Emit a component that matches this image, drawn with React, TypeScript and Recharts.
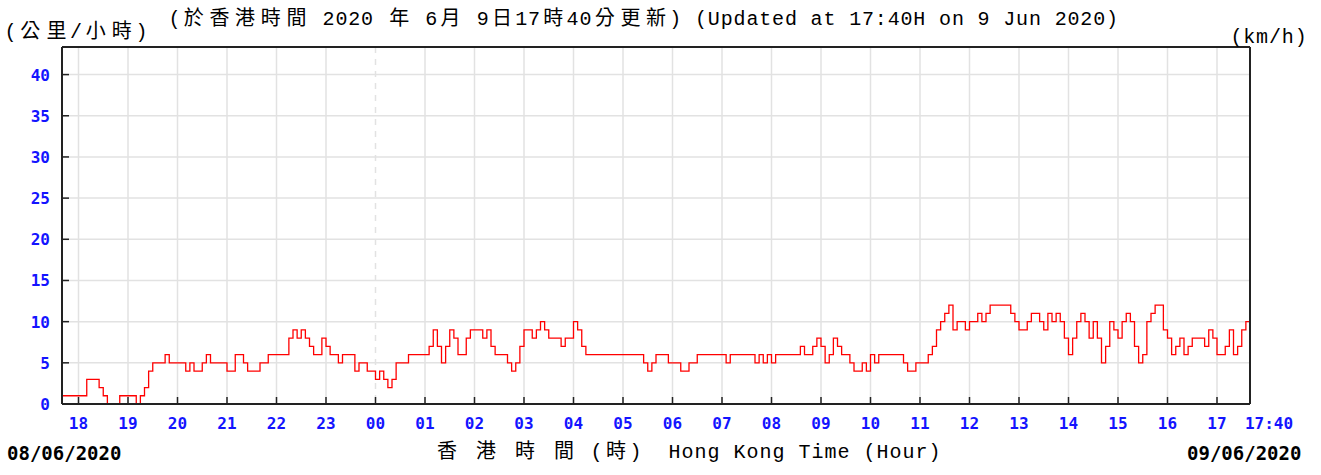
import React from "react";
import {
  LineChart,
  Line,
  XAxis,
  YAxis,
  CartesianGrid,
  ReferenceLine,
} from "recharts";

const AXIS_COLOR = "#222";
const GRID_COLOR = "#e2e2e2";
const TICK_BLUE = "#1414ff";
const LINE_RED = "#ff0000";
const TICK_FONT = "'DejaVu Sans Mono', monospace";
const TEXT_FONT = "'Liberation Mono', 'Noto Sans CJK TC', monospace";

// x axis is minutes since 17:40 on 08/06/2020, one value every 5 minutes
const STEP_MIN = 5;
const Y_MAX = 43.35;
const yTicks = [0, 5, 10, 15, 20, 25, 30, 35, 40];
const hourLabels = [
  "18", "19", "20", "21", "22", "23", "00", "01", "02", "03", "04", "05",
  "06", "07", "08", "09", "10", "11", "12", "13", "14", "15", "16", "17",
];
const endLabel = "17:40";

// wind speed, km/h
const speeds = [
  // 17:40 - 17:55
  1, 1, 1, 1,
  // 18
  1, 1, 3, 3, 3, 2, 1, 0, 0, 0, 1, 1,
  // 19
  1, 1, 0, 1, 2, 4, 5, 5, 5, 6, 5, 5,
  // 20
  5, 5, 4, 5, 4, 4, 5, 6, 5, 5, 5, 5,
  // 21
  4, 4, 6, 6, 5, 4, 4, 4, 5, 5, 6, 6,
  // 22
  6, 6, 6, 8, 9, 8, 9, 8, 7, 6, 6, 8,
  // 23
  7, 6, 6, 5, 6, 6, 6, 4, 5, 5, 4, 4,
  // 00
  3, 4, 3, 2, 3, 5, 5, 5, 6, 6, 6, 6,
  // 01
  6, 7, 9, 7, 5, 7, 9, 8, 6, 6, 8, 9,
  // 02
  9, 9, 8, 9, 7, 6, 6, 6, 5, 4, 5, 7,
  // 03
  9, 9, 8, 9, 10, 9, 8, 8, 8, 7, 8, 8,
  // 04
  10, 9, 7, 6, 6, 6, 6, 6, 6, 6, 6, 6,
  // 05
  6, 6, 6, 6, 6, 5, 4, 5, 6, 6, 6, 5,
  // 06
  5, 5, 4, 4, 5, 5, 6, 6, 6, 6, 6, 6,
  // 07
  6, 5, 6, 6, 6, 6, 6, 6, 5, 6, 5, 6,
  // 08
  5, 6, 6, 6, 6, 6, 6, 7, 6, 6, 7, 8,
  // 09
  7, 5, 6, 8, 7, 6, 6, 5, 4, 4, 5, 4,
  // 10
  6, 5, 6, 6, 6, 6, 6, 6, 5, 4, 4, 5,
  // 11
  5, 5, 6, 7, 9, 10, 11, 12, 9, 10, 10, 9,
  // 12
  10, 10, 11, 10, 11, 12, 12, 12, 12, 12, 11, 10,
  // 13
  9, 9, 10, 11, 11, 10, 9, 11, 10, 11, 10, 8,
  // 14
  6, 8, 10, 11, 10, 8, 10, 8, 5, 7, 10, 9,
  // 15
  8, 10, 11, 10, 7, 5, 6, 10, 11, 12, 12, 9,
  // 16
  8, 6, 7, 8, 6, 7, 8, 8, 8, 7, 9, 8,
  // 17
  6, 6, 7, 9, 6, 7, 9, 10, 7,
];

const data = speeds.map((v, i) => ({ t: i * STEP_MIN, v }));
const hourTicks = hourLabels.map((_, i) => 20 + i * 60);
const xTicks = [...hourTicks, 24 * 60];
const midnight = hourTicks[hourLabels.indexOf("00")];

function BottomTick(props: any) {
  const { x, y, payload } = props;
  const idx = xTicks.indexOf(payload.value);
  const isEnd = idx === xTicks.length - 1;
  const label = isEnd ? endLabel : hourLabels[idx];
  return (
    <g>
      {!isEnd && (
        <line x1={x} y1={y} x2={x} y2={y - 7} stroke={AXIS_COLOR} strokeWidth={1.5} />
      )}
      <text
        x={isEnd ? x + 19 : x}
        y={y + 25}
        textAnchor="middle"
        fill={TICK_BLUE}
        fontFamily={TICK_FONT}
        fontWeight="bold"
        fontSize={16}
      >
        {label}
      </text>
    </g>
  );
}

function LeftTick(props: any) {
  const { x, y, payload } = props;
  return (
    <g>
      {payload.value !== 0 && (
        <line x1={x} y1={y} x2={x + 7} y2={y} stroke={AXIS_COLOR} strokeWidth={1.5} />
      )}
      <text
        x={x - 12}
        y={y + 6}
        textAnchor="end"
        fill={TICK_BLUE}
        fontFamily={TICK_FONT}
        fontWeight="bold"
        fontSize={16}
      >
        {payload.value}
      </text>
    </g>
  );
}

function RightTick(props: any) {
  const { x, y, payload } = props;
  return (
    <g>
      {payload.value !== 0 && (
        <line x1={x} y1={y} x2={x - 7} y2={y} stroke={AXIS_COLOR} strokeWidth={1.5} />
      )}
      <text
        x={x + 8}
        y={y + 6}
        textAnchor="start"
        fill={TICK_BLUE}
        fontFamily={TICK_FONT}
        fontWeight="bold"
        fontSize={16}
      >
        {payload.value}
      </text>
    </g>
  );
}

// monospace text where CJK characters take two cells
function CellText({ text, left, top, cell = 12.85, size = 20 }: any) {
  return (
    <div
      style={{
        position: "absolute",
        left,
        top,
        whiteSpace: "pre",
        fontFamily: TEXT_FONT,
        fontSize: size,
        lineHeight: `${size}px`,
        color: "#000",
      }}
    >
      {Array.from(text as string).map((ch, i) => (
        <span
          key={i}
          style={{
            display: "inline-block",
            width: ch.charCodeAt(0) > 0x2e80 ? cell * 2 : cell,
            textAlign: "center",
          }}
        >
          {ch}
        </span>
      ))}
    </div>
  );
}

const dateStyle: React.CSSProperties = {
  position: "absolute",
  top: 443,
  fontFamily: TICK_FONT,
  fontWeight: "bold",
  fontSize: 19,
  lineHeight: "20px",
  color: "#000",
};

export default function App() {
  return (
    <div
      style={{
        position: "absolute",
        left: 0,
        top: 0,
        width: 1321,
        height: 475,
        background: "#fff",
        overflow: "hidden",
      }}
    >
      <LineChart
        width={1321}
        height={475}
        data={data}
        margin={{ top: 47, right: 0, bottom: 0, left: 0 }}
      >
        <CartesianGrid
          stroke={GRID_COLOR}
          strokeWidth={1.5}
          verticalValues={hourTicks.filter((t) => t !== midnight)}
        />
        <CartesianGrid
          stroke={GRID_COLOR}
          strokeWidth={1.5}
          strokeDasharray="6 6"
          horizontal={false}
          verticalValues={[midnight]}
        />
        <XAxis
          type="number"
          dataKey="t"
          domain={[0, 24 * 60]}
          ticks={xTicks}
          interval={0}
          height={71}
          tickSize={0}
          tickMargin={0}
          tickLine={false}
          axisLine={{ stroke: AXIS_COLOR, strokeWidth: 2 }}
          tick={<BottomTick />}
        />
        <YAxis
          domain={[0, Y_MAX]}
          ticks={yTicks}
          interval={0}
          width={62}
          tickSize={0}
          tickMargin={0}
          tickLine={false}
          axisLine={{ stroke: AXIS_COLOR, strokeWidth: 2 }}
          tick={<LeftTick />}
        />
        <YAxis
          yAxisId="right"
          orientation="right"
          domain={[0, Y_MAX]}
          ticks={yTicks}
          interval={0}
          width={71}
          tickSize={0}
          tickMargin={0}
          tickLine={false}
          axisLine={{ stroke: AXIS_COLOR, strokeWidth: 2 }}
          tick={<RightTick />}
        />
        <ReferenceLine y={Y_MAX} stroke={AXIS_COLOR} strokeWidth={2} />
        <Line
          type="stepAfter"
          dataKey="v"
          stroke={LINE_RED}
          strokeWidth={1.3}
          dot={false}
          isAnimationActive={false}
        />
      </LineChart>

      <CellText text="(公里/小時)" left={4} top={23} cell={13.1} />
      <CellText
        text="(於香港時間 2020 年 6月 9日17時40分更新) (Updated at 17:40H on 9 Jun 2020)"
        left={168}
        top={10}
      />
      <CellText text="(km/h)" left={1230} top={28} />
      <CellText
        text="香 港 時 間 (時)  Hong Kong Time (Hour)"
        left={434}
        top={443}
        cell={13}
      />
      <div style={{ ...dateStyle, left: 7 }}>08/06/2020</div>
      <div style={{ ...dateStyle, left: 1187 }}>09/06/2020</div>
    </div>
  );
}
